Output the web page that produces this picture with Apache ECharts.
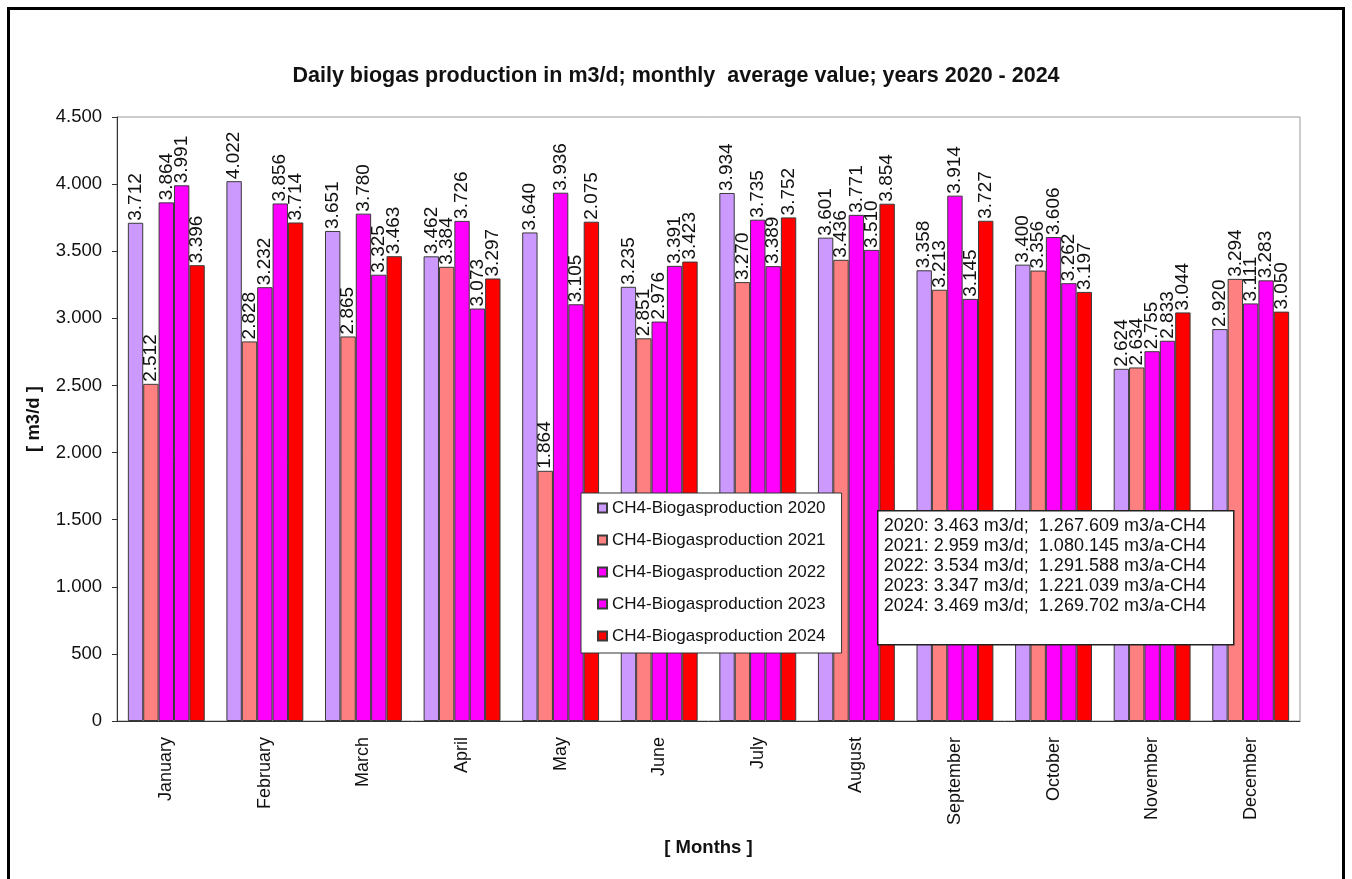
<!DOCTYPE html>
<html>
<head>
<meta charset="utf-8">
<script src="https://cdn.jsdelivr.net/npm/echarts@6/dist/echarts.min.js"></script>
<style>
    html, body { margin: 0; padding: 0; background: #fff; }
    #chart { position: absolute; left: 0; top: 0; width: 1352px; height: 879px; }
    #frame { position: absolute; left: 7px; top: 7px; width: 1332px; height: 900px; border: 3px solid #000; pointer-events: none; }
</style>
</head>
<body>
<div id="chart"></div>
<div id="frame"></div>
<script>
var months = ['January', 'February', 'March', 'April', 'May', 'June', 'July', 'August', 'September', 'October', 'November', 'December'];
var seriesNames = ['CH4-Biogasproduction 2020', 'CH4-Biogasproduction 2021', 'CH4-Biogasproduction 2022', 'CH4-Biogasproduction 2023', 'CH4-Biogasproduction 2024'];
var y2020 = [3712, 4022, 3651, 3462, 3640, 3235, 3934, 3601, 3358, 3400, 2624, 2920];
var y2021 = [2512, 2828, 2865, 3384, 1864, 2851, 3270, 3436, 3213, 3356, 2634, 3294];
var y2022 = [3864, 3232, 3780, 3726, 3936, 2976, 3735, 3771, 3914, 3606, 2755, 3111];
var y2023 = [3991, 3856, 3325, 3073, 3105, 3391, 3389, 3510, 3145, 3262, 2833, 3283];
var y2024 = [3396, 3714, 3463, 3297, 3720, 3423, 3752, 3854, 3727, 3197, 3044, 3050];
// the printed label of May 2024 differs from its bar height in the original
var labels2024 = [null, null, null, null, '2.075', null, null, null, null, null, null, null];
var colors = ['#CC99FF', '#FF8080', '#FF00FF', '#FF00FF', '#FF0000'];

var sumYears = ['2020', '2021', '2022', '2023', '2024'];
var sumDaily = ['3.463', '2.959', '3.534', '3.347', '3.469'];
var sumAnnual = ['1.267.609', '1.080.145', '1.291.588', '1.221.039', '1.269.702'];

function fmt(v) {
    return String(v).replace(/\B(?=(\d{3})+(?!\d))/g, '.');
}

var font = 'Liberation Sans, Arial, sans-serif';
var allData = [y2020, y2021, y2022, y2023, y2024];

var series = allData.map(function(arr, i) {
    return {
        name: seriesNames[i],
        type: 'bar',
        barGap: '0%',
        barCategoryGap: '22%',
        data: arr,
        itemStyle: { color: colors[i], borderColor: '#3a3a3a', borderWidth: 1 },
        label: {
            show: true,
            position: 'top',
            rotate: 90,
            align: 'left',
            verticalAlign: 'middle',
            distance: 2,
            fontFamily: font,
            fontSize: 19,
            color: '#111',
            formatter: function(p) {
                if (i === 4 && labels2024[p.dataIndex]) return labels2024[p.dataIndex];
                return fmt(p.value);
            }
        }
    };
});

var sumLines = sumYears.map(function(y, i) {
    return y + ': ' + sumDaily[i] + ' m3/d;  ' + sumAnnual[i] + ' m3/a-CH4';
});

var myChart = echarts.init(document.getElementById('chart'));
var option = {
    animation: false,
    backgroundColor: '#fff',
    title: {
        text: 'Daily biogas production in m3/d; monthly  average value; years 2020 - 2024',
        left: 'center',
        top: 60,
        textStyle: { fontFamily: font, fontSize: 21.5, fontWeight: 'bold', color: '#111' }
    },
    grid: {
        left: 117, right: 52, top: 117, bottom: 158,
        show: true, borderColor: '#999', borderWidth: 1
    },
    legend: {
        orient: 'vertical',
        left: 581,
        top: 493,
        icon: 'rect',
        itemWidth: 9,
        itemHeight: 9,
        itemGap: 14,
        padding: [6, 16, 8, 16],
        backgroundColor: '#fff',
        borderColor: '#333',
        borderWidth: 1,
        textStyle: { fontFamily: font, fontSize: 17, color: '#111', lineHeight: 18 },
        data: seriesNames
    },
    xAxis: {
        type: 'category',
        data: months,
        name: '[ Months ]',
        nameLocation: 'middle',
        nameGap: 117,
        nameTextStyle: { fontFamily: font, fontSize: 18.5, fontWeight: 'bold', color: '#111' },
        axisLine: { lineStyle: { color: '#333' } },
        axisTick: { length: 5, lineStyle: { color: '#333' } },
        axisLabel: { rotate: 90, fontFamily: font, fontSize: 18, color: '#111', margin: 16 }
    },
    yAxis: {
        type: 'value',
        min: 0,
        max: 4500,
        interval: 500,
        name: '[ m3/d ]',
        nameLocation: 'middle',
        nameGap: 74,
        nameRotate: 90,
        nameTextStyle: { fontFamily: font, fontSize: 18.5, fontWeight: 'bold', color: '#111' },
        splitLine: { show: false },
        axisLine: { show: true, lineStyle: { color: '#333' } },
        axisTick: { show: true, length: 5, lineStyle: { color: '#333' } },
        axisLabel: {
            fontFamily: font, fontSize: 18.5, color: '#111', margin: 15,
            formatter: function(v) { return fmt(v); }
        }
    },
    graphic: [{
        type: 'group',
        left: 877,
        top: 510,
        z: 100,
        children: [{
            type: 'rect',
            z: 100,
            shape: { x: 0, y: 0, width: 356, height: 134 },
            style: { fill: '#fff', stroke: '#222', lineWidth: 1.5 }
        }, {
            type: 'text',
            z: 101,
            x: 6,
            y: 5,
            style: {
                text: sumLines.join('\n'),
                font: '18px ' + font,
                fill: '#111',
                lineHeight: 20
            }
        }]
    }],
    series: series
};
myChart.setOption(option);
</script>
</body>
</html>
